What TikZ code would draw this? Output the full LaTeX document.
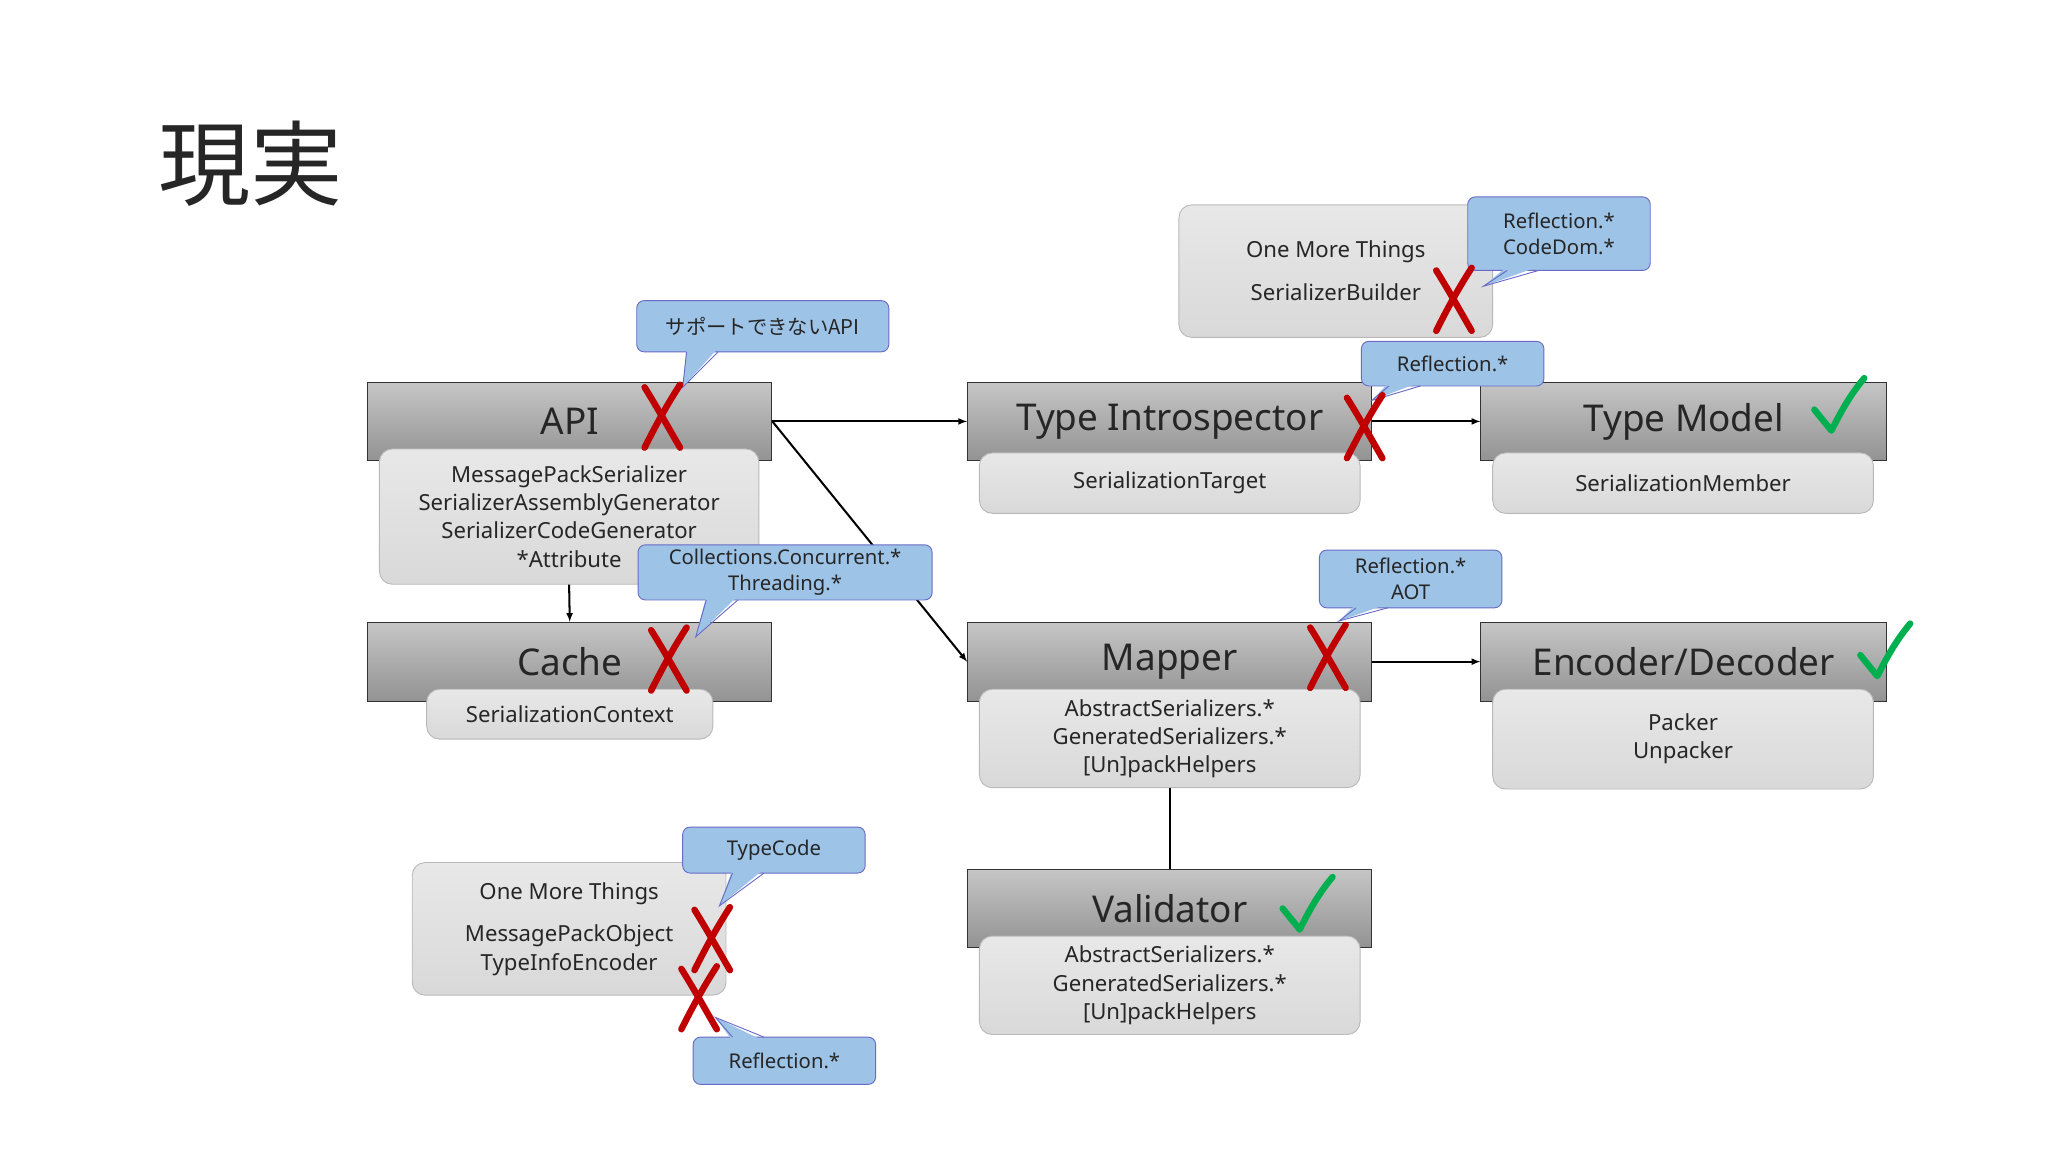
\documentclass[tikz,border=0pt]{standalone}
\usepackage{fontspec}
\setmainfont{Noto Sans}
\newfontfamily\cjk{Noto Sans CJK JP}
\begin{document}
\begin{tikzpicture}[x=0.05cm,y=-0.05cm,
  hdr/.style={draw=gray!40!black,line width=1pt,top color=gray!45,bottom color=gray!85,inner sep=0pt,font=\fontsize{40}{46}\selectfont,text=black!85},
  body/.style={draw=gray!55,line width=1pt,rounded corners=14pt,top color=gray!18,bottom color=gray!30,inner sep=0pt,align=center,font=\fontsize{24}{30.5}\selectfont,text=black!85},
  call/.style={draw=blue!45!gray!80,line width=1pt,fill=cbl,rounded corners=8pt,inner sep=0pt,align=center,font=\fontsize{22}{28}\selectfont,text=black!85},
  conn/.style={line width=2.2pt,-latex},
  xmark/.style={draw=xred,line width=7pt,line cap=round},
  cmark/.style={draw=cgreen,line width=7pt,line cap=round,line join=round}]
\definecolor{cbl}{HTML}{9DC3E6}
\definecolor{xred}{HTML}{C00000}
\definecolor{cgreen}{HTML}{00B050}
\newcommand\bx[7]{\node[#1,minimum width={(#5-#3)*0.05cm},minimum height={(#6-#4)*0.05cm}] (#2) at ({(#3+#5)/2},{(#4+#6)/2}) {#7};}
\newcommand\xm[2]{\draw[xmark] (#1-14,#2+24) .. controls (#1-4,#2+4) and (#1+4,#2-10) .. (#1+13,#2-24);
  \draw[xmark] (#1-14,#2-22) .. controls (#1-4,#2-6) and (#1+6,#2+12) .. (#1+13,#2+24);}
\newcommand\cm[2]{\draw[cmark] (#1-18,#2+2) -- (#1-5,#2+18) .. controls (#1+3,#2+2) and (#1+10,#2-10) .. (#1+20,#2-22);}
\newcommand\callout[9]{%
  \bx{call}{#1}{#2}{#3}{#4}{#5}{#9}
  \fill[cbl] (#6-12,#5-3) -- (#7,#8) -- (#6+12,#5-3) -- cycle;
  \draw[blue!45!gray!80,line width=1pt] (#6-12,#5) -- (#7,#8) -- (#6+12,#5);}
\newcommand\calloutup[9]{%
  \bx{call}{#1}{#2}{#3}{#4}{#5}{#9}
  \fill[cbl] (#6-12,#3+3) -- (#7,#8) -- (#6+12,#3+3) -- cycle;
  \draw[blue!45!gray!80,line width=1pt] (#6-12,#3) -- (#7,#8) -- (#6+12,#3);}
\useasboundingbox[fill=white] (0,0) rectangle (1560,877.5);
\node[font=\cjk\fontsize{100}{100}\selectfont,text=black!85] (title) at (191,125) {現実};
% boxes
\bx{hdr}{api}{280}{291}{588}{351}{API}
\bx{body}{apib}{289}{342}{578}{445}{MessagePackSerializer\\SerializerAssemblyGenerator\\SerializerCodeGenerator\\*Attribute}
\bx{hdr}{cache}{280}{474}{588}{534}{Cache}
\bx{body}{cacheb}{325}{525}{543}{563}{SerializationContext}
\bx{hdr}{ti}{737}{291}{1045}{351}{Type Introspector}
\bx{body}{tib}{746}{345}{1036}{391}{SerializationTarget}
\bx{hdr}{tm}{1128}{291}{1437}{351}{Type Model}
\bx{body}{tmb}{1137}{345}{1427}{391}{SerializationMember}
\bx{body}{omt1}{898}{156}{1137}{257}{One More Things\\[16pt]SerializerBuilder}
\bx{hdr}{mapper}{737}{474}{1045}{534}{Mapper}
\bx{body}{mapperb}{746}{525}{1036}{600}{AbstractSerializers.*\\GeneratedSerializers.*\\{[Un]}packHelpers}
\bx{hdr}{enc}{1128}{474}{1437}{534}{Encoder/Decoder}
\bx{body}{encb}{1137}{525}{1427}{601}{Packer\\Unpacker}
\bx{hdr}{val}{737}{662}{1045}{722}{Validator}
\bx{body}{valb}{746}{713}{1036}{788}{AbstractSerializers.*\\GeneratedSerializers.*\\{[Un]}packHelpers}
\bx{body}{omt2}{314}{657}{553}{758}{One More Things\\[16pt]MessagePackObject\\TypeInfoEncoder}
% connectors
\draw[conn] (apib.south) -- (cache.north);
\draw[conn] (api.east) -- (ti.west);
\draw[conn] (ti.east) -- (tm.west);
\draw[conn] (api.east) -- (mapper.west);
\draw[conn] (mapper.east) -- (enc.west);
\draw[line width=2.2pt] (mapperb.south) -- (val.north);
% callouts and marks
\callout{c1}{485}{229}{677}{268}{535}{520}{295}{\cjk サポートできないAPI}
\xm{505}{317}
\callout{c2}{486}{415}{710}{457}{550}{530}{485}{Collections.Concurrent.*\\Threading.*}
\xm{510}{502}
\callout{c3}{1037}{260}{1176}{294}{1070}{1045}{305}{Reflection.*}
\xm{1040}{325}
\cm{1400}{310}
\callout{c4}{1118}{150}{1257}{206}{1160}{1130}{218}{Reflection.*\\CodeDom.*}
\xm{1108}{228}
\callout{c5}{1005}{419}{1144}{463}{1045}{1020}{473}{Reflection.*\\AOT}
\xm{1012}{500}
\cm{1435}{497}
\cm{995}{690}
\callout{c6}{520}{630}{659}{665}{570}{548}{690}{TypeCode}
\calloutup{c7}{528}{790}{667}{826}{570}{545}{775}{Reflection.*}
\xm{543}{715}
\xm{533}{760}
\end{tikzpicture}
\end{document}
